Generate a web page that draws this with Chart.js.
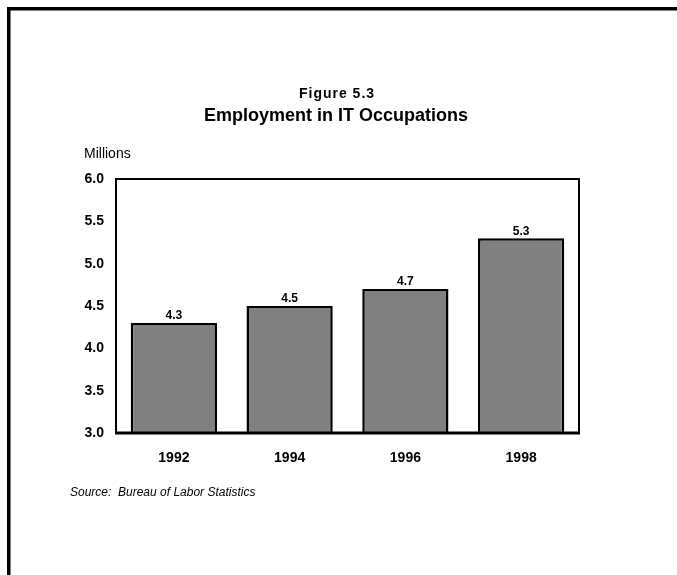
<!DOCTYPE html>
<html>
<head>
<meta charset="utf-8">
<script src="https://cdn.jsdelivr.net/npm/chart.js@4"></script>
<style>
  html, body { margin: 0; padding: 0; background: #fff; }
  #wrap { position: relative; width: 677px; height: 575px; }
</style>
</head>
<body>
<div id="wrap"><canvas id="barChart" width="677" height="575"></canvas></div>
<script>
// chart data
const years = ['1992', '1994', '1996', '1998'];
const employment = [4.3, 4.5, 4.7, 5.3]; // millions
const yTicks = [3.0, 3.5, 4.0, 4.5, 5.0, 5.5, 6.0];

const figureLabel = 'Figure 5.3';
const chartTitle = 'Employment in IT Occupations';
const unitLabel = 'Millions';
const sourceNote = 'Source:  Bureau of Labor Statistics';

const FONT = '"Liberation Sans", Arial, Helvetica, sans-serif';

// page frame, titles, unit and source text
const decorPlugin = {
    id: 'decor',
    beforeDraw(chart) {
        const ctx = chart.ctx;
        ctx.save();
        ctx.fillStyle = '#fff';
        ctx.fillRect(0, 0, chart.width, chart.height);
        ctx.fillStyle = '#000';
        ctx.fillRect(7, 7, chart.width - 7, 3.5);
        ctx.fillRect(7, 7, 3.5, chart.height - 7);

        ctx.textAlign = 'center';
        ctx.textBaseline = 'alphabetic';
        ctx.font = 'bold 14px ' + FONT;
        ctx.letterSpacing = '1px';
        ctx.fillText(figureLabel, 337, 98);
        ctx.letterSpacing = '0px';
        ctx.font = 'bold 18px ' + FONT;
        ctx.fillText(chartTitle, 336, 121);

        ctx.textAlign = 'left';
        ctx.font = '14px ' + FONT;
        ctx.fillText(unitLabel, 84, 158);

        ctx.font = 'italic 12px ' + FONT;
        ctx.fillText(sourceNote, 70, 496);
        ctx.restore();
    },
    afterDatasetsDraw(chart) {
        const ctx = chart.ctx;
        const a = chart.chartArea;
        ctx.save();
        // plot box
        ctx.strokeStyle = '#000';
        ctx.lineWidth = 2;
        ctx.strokeRect(a.left, a.top, a.right - a.left, a.bottom - a.top);
        ctx.lineWidth = 3;
        ctx.beginPath();
        ctx.moveTo(a.left - 1, a.bottom);
        ctx.lineTo(a.right + 1, a.bottom);
        ctx.stroke();

        // value labels above bars
        ctx.fillStyle = '#000';
        ctx.font = 'bold 12px ' + FONT;
        ctx.textAlign = 'center';
        ctx.textBaseline = 'bottom';
        const meta = chart.getDatasetMeta(0);
        meta.data.forEach((bar, i) => {
            ctx.fillText(employment[i].toFixed(1), bar.x, bar.y - 1);
        });
        ctx.restore();
    }
};

const ctx = document.getElementById('barChart').getContext('2d');
const barChart = new Chart(ctx, {
    type: 'bar',
    data: {
        labels: years,
        datasets: [{
            data: employment,
            backgroundColor: '#808080',
            borderColor: '#000',
            borderWidth: 2.5,
            borderSkipped: false,
            categoryPercentage: 1,
            barPercentage: 0.745
        }]
    },
    options: {
        responsive: false,
        animation: false,
        devicePixelRatio: 1,
        layout: { padding: { top: 179, left: 76, right: 98, bottom: 102 } },
        plugins: {
            legend: { display: false },
            tooltip: { enabled: false }
        },
        scales: {
            x: {
                grid: { display: false, drawTicks: false },
                border: { display: false },
                ticks: { color: '#000', padding: 17, font: { family: FONT, size: 14, weight: 'bold' } },
                afterFit: (scale) => { scale.height = 40; }
            },
            y: {
                min: yTicks[0],
                max: yTicks[yTicks.length - 1],
                grid: { display: false, drawTicks: false },
                border: { display: false },
                afterBuildTicks: (scale) => { scale.ticks = yTicks.map(v => ({ value: v })); },
                ticks: {
                    color: '#000',
                    padding: 12,
                    font: { family: FONT, size: 14, weight: 'bold' },
                    callback: (v) => Number(v).toFixed(1)
                },
                afterFit: (scale) => { scale.width = 40; }
            }
        }
    },
    plugins: [decorPlugin]
});
</script>
</body>
</html>
